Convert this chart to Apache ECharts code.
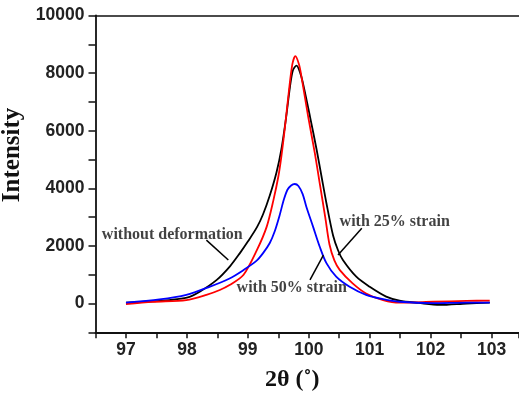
<!DOCTYPE html>
<html>
<head>
<meta charset="utf-8">
<script src="https://cdn.jsdelivr.net/npm/echarts@6/dist/echarts.min.js"></script>
<style>html,body{margin:0;padding:0;background:#fff;}#c{width:519px;height:394px;}</style>
</head>
<body>
<div id="c"></div>
<script>
// ---- data ----
const xTickLabels = [97, 98, 99, 100, 101, 102, 103];
const yTickLabels = [0, 2000, 4000, 6000, 8000, 10000];

const blackX = [97.0, 97.3, 97.71, 98.0, 98.21, 98.49, 98.71, 98.87, 99.0, 99.15, 99.25, 99.36, 99.47, 99.55, 99.63, 99.69, 99.74, 99.80, 99.86, 99.91, 100.02, 100.13, 100.21, 100.29, 100.40, 100.48, 100.56, 100.78, 101.0, 101.27, 101.49, 101.8, 102.15, 102.59, 102.97];
const blackY = [30, 60, 120, 200, 410, 820, 1300, 1750, 2150, 2650, 3100, 3750, 4550, 5350, 6490, 7500, 8100, 8260, 8000, 7600, 6490, 5330, 4400, 3480, 2350, 1850, 1510, 930, 580, 240, 100, 20, -50, 0, 30];

const redX = [97.0, 97.44, 97.99, 98.32, 98.54, 98.70, 98.93, 99.15, 99.31, 99.42, 99.50, 99.55, 99.61, 99.67, 99.73, 99.78, 99.84, 99.88, 99.99, 100.10, 100.18, 100.27, 100.34, 100.42, 100.51, 100.72, 100.94, 101.22, 101.49, 102.04, 102.59, 102.97];
const redY = [-20, 60, 120, 300, 470, 640, 1000, 1860, 2670, 3590, 4400, 5100, 6140, 7300, 8300, 8590, 8300, 7880, 6490, 5210, 4170, 3000, 2050, 1500, 1160, 700, 350, 120, 30, 60, 90, 100];

const blueX = [97.0, 97.55, 97.99, 98.37, 98.70, 98.92, 99.14, 99.25, 99.36, 99.44, 99.52, 99.59, 99.65, 99.71, 99.77, 99.83, 99.90, 99.96, 100.07, 100.18, 100.29, 100.45, 100.67, 100.94, 101.22, 101.49, 102.04, 102.59, 102.97];
const blueY = [30, 140, 300, 580, 870, 1150, 1480, 1750, 2100, 2500, 3050, 3600, 3950, 4100, 4150, 4080, 3800, 3360, 2670, 1970, 1400, 930, 580, 300, 150, 60, 10, 30, 30];

const annoText = ['without deformation', 'with 50% strain', 'with 25% strain'];
const annoTextX = [97.76, 99.72, 101.41];
const annoTextY = [2400, 540, 2840];
const arrowFromX = [98.32, 100.02, 100.87];
const arrowFromY = [2200, 820, 2610];
const arrowToX = [98.68, 100.24, 100.48];
const arrowToY = [1510, 1680, 1680];

const zip = (xs, ys) => xs.map((x, i) => [x, ys[i]]);

const chart = echarts.init(document.getElementById('c'), null, {renderer: 'canvas'});
const sansBold = {fontFamily: 'Liberation Sans, Arial, sans-serif', fontWeight: 'bold', fontSize: 17.5, color: '#222'};
const serifBold = {fontFamily: 'Liberation Serif, Times New Roman, serif', fontWeight: 'bold', color: '#111'};

chart.setOption({
  animation: false,
  backgroundColor: '#fff',
  grid: {left: 95.5, right: 0, top: 15.5, bottom: 61.7, containLabel: false, outerBoundsMode: 'none'},
  xAxis: [{
    type: 'value', min: 96.5, max: 103.45, interval: 0.5,
    axisLine: {show: true, onZero: false, lineStyle: {color: '#111', width: 1.8}},
    axisTick: {show: true, inside: false, length: 6, lineStyle: {color: '#111', width: 1.5}},
    axisLabel: Object.assign({margin: 9, customValues: xTickLabels, formatter: v => String(v)}, sansBold),
    splitLine: {show: false},
    name: '2θ (˚)', nameLocation: 'middle', nameGap: 35,
    nameTextStyle: Object.assign({fontSize: 24, padding: [0, 30, 0, 0]}, serifBold)
  }, {
    type: 'value', position: 'top', min: 96.5, max: 103.45,
    axisLine: {show: true, onZero: false, lineStyle: {color: '#111', width: 1.5}},
    axisTick: {show: false}, axisLabel: {show: false}, splitLine: {show: false}
  }],
  yAxis: {
    type: 'value', min: -1000, max: 10000, interval: 1000,
    axisLine: {show: true, onZero: false, lineStyle: {color: '#111', width: 1.8}},
    axisTick: {show: true, inside: false, length: 7, lineStyle: {color: '#111', width: 1.5}},
    axisLabel: Object.assign({margin: 11, customValues: yTickLabels, formatter: v => String(v)}, sansBold),
    splitLine: {show: false},
    name: 'Intensity', nameLocation: 'middle', nameGap: 66, nameRotate: 90,
    nameTextStyle: Object.assign({fontSize: 25, padding: [0, 0, 0, 38]}, serifBold)
  },
  series: [
    {name: 'without deformation', type: 'line', data: zip(blackX, blackY), showSymbol: false, smooth: 0.3,
     lineStyle: {color: '#000', width: 1.8}, itemStyle: {color: '#000'}},
    {name: 'with 25% strain', type: 'line', data: zip(redX, redY), showSymbol: false, smooth: 0.3,
     lineStyle: {color: '#ff0000', width: 1.8}, itemStyle: {color: '#ff0000'}},
    {name: 'with 50% strain', type: 'line', data: zip(blueX, blueY), showSymbol: false, smooth: 0.3,
     lineStyle: {color: '#0000ff', width: 1.8}, itemStyle: {color: '#0000ff'},
     markLine: {
       silent: true, symbol: ['none', 'arrow'], symbolSize: [0, 8], label: {show: false},
       lineStyle: {color: '#000', width: 1.5, type: 'solid'},
       itemStyle: {color: '#000'},
       data: arrowFromX.map((x, i) => [{coord: [x, arrowFromY[i]]}, {coord: [arrowToX[i], arrowToY[i]]}])
     }},
    {name: 'annotations', type: 'scatter', symbolSize: 0, silent: true,
     data: annoText.map((t, i) => ({value: [annoTextX[i], annoTextY[i]], name: t})),
     label: Object.assign({show: true, position: 'inside', align: 'center', verticalAlign: 'middle',
       fontSize: 16, formatter: p => p.name}, serifBold)}
  ]
});
</script>
</body>
</html>
